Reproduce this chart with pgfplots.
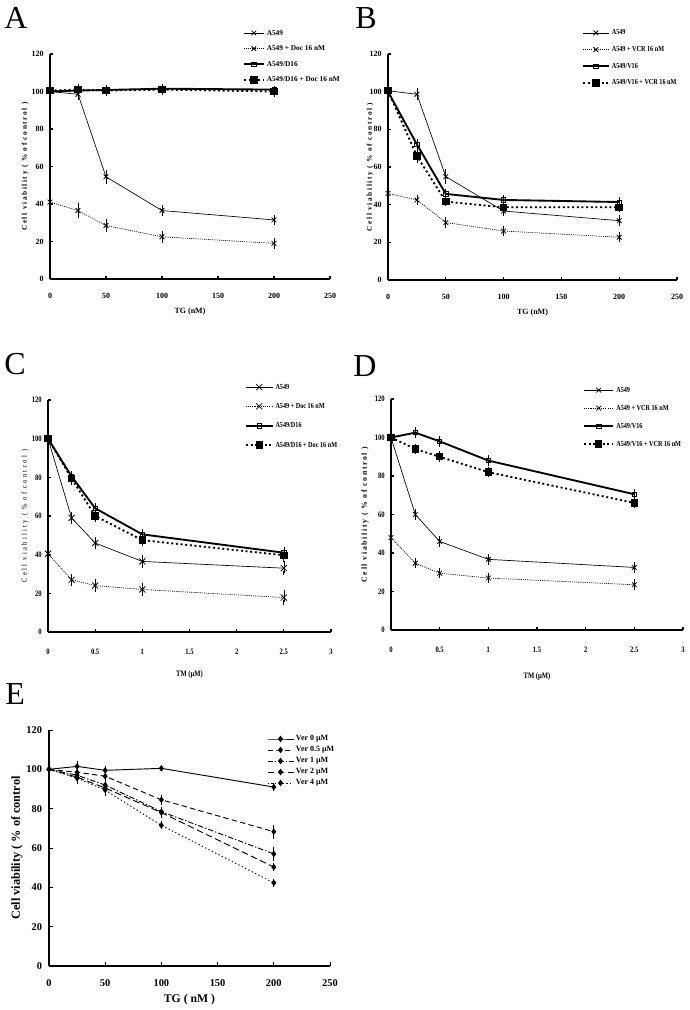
\documentclass[border=0pt]{standalone}
\usepackage{fontspec}
\setmainfont{Liberation Serif}
\newfontfamily\cnd[FakeStretch=0.8]{Liberation Serif}
\newfontfamily\spc[LetterSpace=22]{Liberation Serif}
\newfontfamily\spcc[LetterSpace=30,FakeStretch=0.85]{Liberation Serif}
\usepackage{pgfplots}
\pgfplotsset{compat=1.18}
\newcommand\tk{\bfseries\fontsize{6}{6.5}\selectfont}
\newcommand\tkc{\cnd\bfseries\fontsize{6.2}{6.5}\selectfont}
\newcommand\lgA{\bfseries\fontsize{5.5}{6}\selectfont}
\newcommand\lgc{\cnd\bfseries\fontsize{5.8}{6}\selectfont}
\pgfplotsset{
 base/.style={scale only axis, clip=false, axis x line=bottom, axis y line=left,
   axis line style={-, line width=1.2pt}, tick align=inside, major tick length=2.5pt,
   every tick/.style={black, line width=0.8pt},
   ymin=0, ymax=120, ytick={0,20,...,120},
   /pgf/number format/assume math mode=true,
   xticklabel style={anchor=center, inner sep=0pt},
   yticklabel style={anchor=east, inner sep=0pt},
   legend cell align=left,
   legend style={draw=none, fill=none, anchor=north west, inner sep=0pt, outer sep=0pt,
     nodes={inner sep=0pt, text height=4pt, text depth=1pt}},
   xlabel style={anchor=center}, ylabel style={anchor=center},
 },
 eb/.style={error bars/y dir=both, error bars/y explicit,
   error bars/error bar style={line width=0.5pt, solid},
   error bars/error mark options={mark size=#1, line width=0.5pt}},
 eb/.default=1.8pt,
 s1/.style={black, line width=0.5pt, mark=x, mark size=2.5pt, mark options={solid, line width=0.6pt}, eb},
 s2/.style={black, line width=0.5pt, dash pattern=on 0.8pt off 0.8pt, mark=x, mark size=2.5pt, mark options={solid, line width=0.6pt}, eb},
 s3/.style={black, line width=1.4pt, mark=square, mark size=1.6pt, mark options={solid, fill=white, line width=0.5pt}, eb},
 s4/.style={black, line width=1.4pt, dash pattern=on 1.5pt off 2pt, mark=square*, mark size=2.1pt, mark options={solid}, eb},
 e0/.style={black, line width=0.7pt, mark=diamond*, mark size=1.9pt, mark options={solid}, eb=1.5pt},
 li/.style={legend image code/.code={\draw[mark repeat=2,mark phase=2,##1] plot coordinates {(0pt,0pt)(#1,0pt)(2*#1,0pt)};}},
}
\begin{document}
\begin{tikzpicture}
\useasboundingbox (0,0) rectangle (516.75pt,757.5pt);
\node[anchor=north west, inner sep=0pt, font=\fontsize{24}{24}\selectfont] at (3pt,752.25pt) {A};
\node[anchor=north west, inner sep=0pt, font=\fontsize{24}{24}\selectfont] at (266.25pt,752.25pt) {B};
\node[anchor=north west, inner sep=0pt, font=\fontsize{24}{24}\selectfont] at (3pt,492.75pt) {C};
\node[anchor=north west, inner sep=0pt, font=\fontsize{24}{24}\selectfont] at (264.75pt,491.25pt) {D};
\node[anchor=north west, inner sep=0pt, font=\fontsize{24}{24}\selectfont] at (3.75pt,245.25pt) {E};

% ---------- A
\begin{axis}[base, at={(37.5pt,548.25pt)}, anchor=south west, width=210pt, height=168.75pt,
  xmin=0, xmax=250, xtick={0,50,...,250},
  ticklabel style={font=\tk}, xticklabel style={yshift=-12.75pt}, yticklabel style={xshift=-4.5pt},
  xlabel={TG (nM)}, xlabel style={font=\tk, at={(axis description cs:0.5,-0.147)}},
  ylabel={Cell viability ( \% of control )}, ylabel style={font=\spc\bfseries\fontsize{5.5}{6}\selectfont, at={(axis description cs:-0.089,0.5)}},
  li=7.5pt,
  legend style={at={(axis description cs:0.689,1.108)}, font=\lgA, row sep=6.7pt, column sep=1.5pt}]
\addplot[s1] coordinates {(0,100)+-(0,1) (25,98.5)+-(0,1.5) (50,54.5)+-(0,2.5) (100,36.5)+-(0,1.5) (200,31.5)+-(0,1.5)};
\addplot[s2] coordinates {(0,41)+-(0,2) (25,36.5)+-(0,2.5) (50,28.5)+-(0,2) (100,22.5)+-(0,2) (200,19)+-(0,1.8)};
\addplot[s3] coordinates {(0,100)+-(0,1) (25,100.5)+-(0,1) (50,100.8)+-(0,1) (100,101.5)+-(0,1) (200,101)+-(0,0.8)};
\addplot[s4] coordinates {(0,100.5)+-(0,1.5) (25,101)+-(0,1.5) (50,100.5)+-(0,1.5) (100,101)+-(0,1.5) (200,100)+-(0,1.5)};
\legend{A549, A549 + Doc 16 nM, A549/D16, A549/D16 + Doc 16 nM}
\end{axis}

% ---------- B
\begin{axis}[base, at={(291pt,547.5pt)}, anchor=south west, width=216.75pt, height=169.5pt,
  xmin=0, xmax=250, xtick={0,50,...,250},
  ticklabel style={font=\tk}, xticklabel style={yshift=-12.75pt}, yticklabel style={xshift=-4.5pt},
  xlabel={TG (nM)}, xlabel style={font=\tk, at={(axis description cs:0.5,-0.146)}},
  ylabel={Cell viability ( \% of control )}, ylabel style={font=\spc\bfseries\fontsize{5.5}{6}\selectfont, at={(axis description cs:-0.062,0.5)}},
  li=9.75pt,
  legend style={at={(axis description cs:0.671,1.108)}, font=\lgc, row sep=7.5pt, column sep=1.5pt}]
\addplot[s1] coordinates {(0,100.5)+-(0,1.5) (25,98.6)+-(0,2) (50,54.9)+-(0,2.5) (100,36.6)+-(0,1.5) (200,31.5)+-(0,1.5)};
\addplot[s2] coordinates {(0,46)+-(0,1.5) (25,42.5)+-(0,1.5) (50,30.5)+-(0,1.5) (100,26)+-(0,1.5) (200,22.7)+-(0,1.5)};
\addplot[s3] coordinates {(0,100)+-(0,1.5) (25,72)+-(0,1.5) (50,45.7)+-(0,1.5) (100,42.5)+-(0,1.2) (200,41.4)+-(0,1.2)};
\addplot[s4] coordinates {(0,100.5)+-(0,1.5) (25,65.8)+-(0,2.5) (50,41.6)+-(0,1) (100,38.6)+-(0,1) (200,38.6)+-(0,1)};
\legend{A549, A549 + VCR 16 nM, A549/V16, A549/V16 + VCR 16 nM}
\end{axis}

% ---------- C
\begin{axis}[base, at={(36pt,283.5pt)}, anchor=south west, width=212.25pt, height=174pt,
  xmin=0, xmax=3, xtick={0,0.5,...,3},
  ticklabel style={font=\tkc}, xticklabel style={yshift=-15pt}, yticklabel style={xshift=-4.5pt},
  xlabel={TM (µM)}, xlabel style={font=\tkc, at={(axis description cs:0.5,-0.185)}},
  ylabel={Cell viability ( \% of control )}, ylabel style={font=\spcc\fontsize{5.8}{6}\selectfont, at={(axis description cs:-0.081,0.5)}},
  li=10pt,
  legend style={at={(axis description cs:0.696,1.070)}, font=\lgc, row sep=9.5pt, column sep=1.5pt}]
\addplot[s1, mark size=3.2pt] coordinates {(0,100)+-(0,1.5) (0.25,59)+-(0,2) (0.5,46)+-(0,2) (1,36.5)+-(0,2) (2.5,33)+-(0,2.5)};
\addplot[s2, mark size=3.2pt] coordinates {(0,40.5)+-(0,2.5) (0.25,27)+-(0,2) (0.5,24)+-(0,2) (1,22)+-(0,2) (2.5,17.8)+-(0,2.5)};
\addplot[s3] coordinates {(0,100)+-(0,1.5) (0.25,80.5)+-(0,1.5) (0.5,64)+-(0,1.5) (1,50.5)+-(0,1.5) (2.5,41)+-(0,1.5)};
\addplot[s4] coordinates {(0,100)+-(0,2) (0.25,79.5)+-(0,2) (0.5,60)+-(0,2) (1,47.5)+-(0,2) (2.5,39.7)+-(0,2)};
\legend{A549, A549 + Doc 16 nM, A549/D16, A549/D16 + Doc 16 nM}
\end{axis}

% ---------- D
\begin{axis}[base, at={(293.25pt,285pt)}, anchor=south west, width=219pt, height=173.25pt,
  xmin=0, xmax=3, xtick={0,0.5,...,3},
  ticklabel style={font=\tkc}, xticklabel style={yshift=-15pt}, yticklabel style={xshift=-4.5pt},
  xlabel={TM (µM)}, xlabel style={font=\tkc, at={(axis description cs:0.5,-0.203)}},
  ylabel={Cell viability ( \% of control )}, ylabel style={font=\spc\bfseries\fontsize{5.8}{6}\selectfont, at={(axis description cs:-0.089,0.5)}},
  li=11pt,
  legend style={at={(axis description cs:0.658,1.053)}, font=\lgc, row sep=8.5pt, column sep=1.5pt}]
\addplot[s1] coordinates {(0,100)+-(0,1.5) (0.25,60)+-(0,1.5) (0.5,46)+-(0,1.5) (1,36.7)+-(0,1.5) (2.5,32.5)+-(0,1.5)};
\addplot[s2] coordinates {(0,48)+-(0,1.5) (0.25,34.7)+-(0,1.5) (0.5,29.5)+-(0,1.5) (1,27)+-(0,1.5) (2.5,23.5)+-(0,1.5)};
\addplot[s3] coordinates {(0,100)+-(0,1.5) (0.25,102.5)+-(0,1.5) (0.5,98)+-(0,1.5) (1,88)+-(0,1.5) (2.5,70.5)+-(0,1.5)};
\addplot[s4] coordinates {(0,100)+-(0,1.5) (0.25,94)+-(0,1.5) (0.5,90)+-(0,1.5) (1,82)+-(0,1.5) (2.5,66)+-(0,1.5)};
\legend{A549, A549 + VCR 16 nM, A549/V16, A549/V16 + VCR 16 nM}
\end{axis}

% ---------- E
\begin{axis}[base, at={(36.75pt,33pt)}, anchor=south west, width=210.75pt, height=177pt,
  axis line style={line width=0.9pt}, every tick/.style={black, line width=0.7pt}, major tick length=3pt,
  xmin=0, xmax=250, xtick={0,50,...,250},
  ticklabel style={font=\bfseries\fontsize{7.8}{8}\selectfont}, xticklabel style={yshift=-12.75pt}, yticklabel style={xshift=-5pt},
  xlabel={TG ( nM )}, xlabel style={font=\bfseries\fontsize{8.8}{9}\selectfont, at={(axis description cs:0.5,-0.144)}},
  ylabel={Cell viability ( \% of control}, ylabel style={font=\bfseries\fontsize{9.2}{9.5}\selectfont, at={(axis description cs:-0.114,0.5)}},
  li=9.75pt,
  legend style={at={(axis description cs:0.776,0.976)}, font=\bfseries\fontsize{6}{6}\selectfont, row sep=3.25pt, column sep=1.5pt}]
\addplot[e0] coordinates {(0,100)+-(0,0.5) (25,101.5)+-(0,1.5) (50,99.5)+-(0,1) (100,100.5)+-(0,0.5) (200,91)+-(0,1)};
\addplot[e0, dash pattern=on 4pt off 2.5pt] coordinates {(0,100)+-(0,0) (25,98.5)+-(0,2) (50,96.5)+-(0,1.5) (100,84.5)+-(0,1.5) (200,68.3)+-(0,2.5)};
\addplot[e0, dash pattern=on 4pt off 1.5pt on 1pt off 1.5pt] coordinates {(0,100)+-(0,0) (25,97)+-(0,2) (50,92)+-(0,2) (100,78.5)+-(0,1.5) (200,57)+-(0,2.5)};
\addplot[e0, dash pattern=on 5pt off 2.5pt] coordinates {(0,100)+-(0,0) (25,96)+-(0,2) (50,90.5)+-(0,2) (100,78)+-(0,1.5) (200,50.3)+-(0,1)};
\addplot[e0, dash pattern=on 1pt off 1.8pt] coordinates {(0,100)+-(0,0) (25,95.5)+-(0,2) (50,89.5)+-(0,2) (100,71.5)+-(0,1) (200,42.3)+-(0,1)};
\legend{Ver 0 µM, Ver 0.5 µM, Ver 1 µM, Ver 2 µM, Ver 4 µM}
\end{axis}
\end{tikzpicture}
\end{document}
